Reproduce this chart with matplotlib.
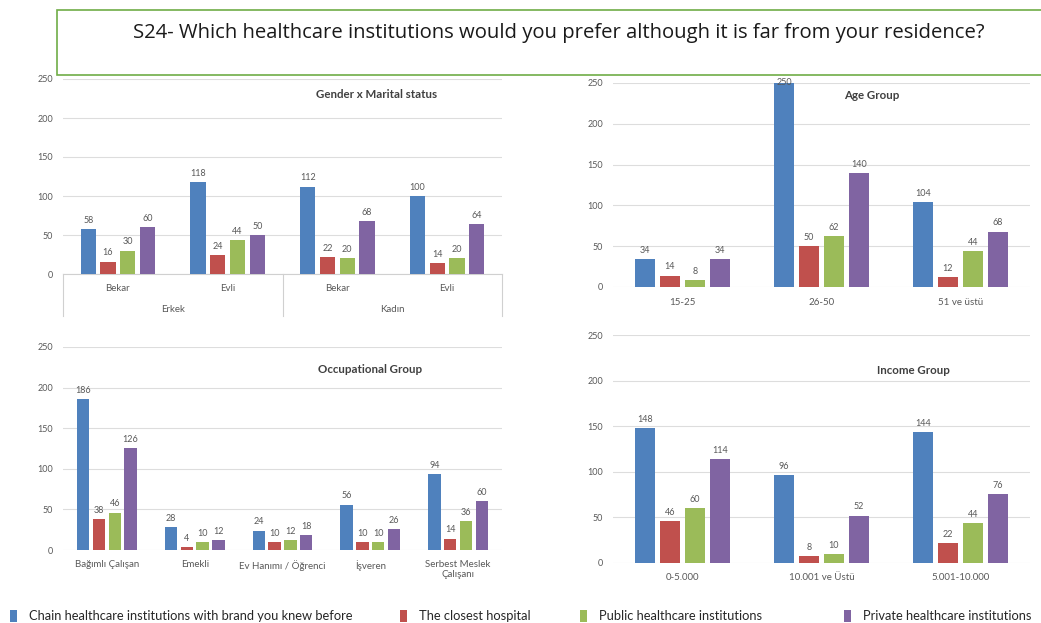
import numpy as np
import matplotlib.pyplot as plt
from matplotlib.patches import Rectangle
import matplotlib.transforms as mtransforms

plt.rcParams['font.family'] = ['Lato', 'DejaVu Sans']

W, H = 1041, 623

series_names = ["Chain healthcare institutions with brand you knew before",
                "The closest hospital",
                "Public healthcare institutions",
                "Private healthcare institutions"]
colors = ["#4F81BD", "#C0504D", "#9BBB59", "#8064A2"]

# Gender x Marital status
gm_cats = ["Bekar", "Evli", "Bekar", "Evli"]
gm_groups = ["Erkek", "Kadın"]
gm_chain = [58, 118, 112, 100]
gm_closest = [16, 24, 22, 14]
gm_public = [30, 44, 20, 20]
gm_private = [60, 50, 68, 64]

# Age group
age_cats = ["15-25", "26-50", "51 ve üstü"]
age_chain = [34, 250, 104]
age_closest = [14, 50, 12]
age_public = [8, 62, 44]
age_private = [34, 140, 68]

# Occupational group
occ_cats = ["Bağımlı Çalışan", "Emekli", "Ev Hanımı / Öğrenci", "İşveren",
            "Serbest Meslek\nÇalışanı"]
occ_chain = [186, 28, 24, 56, 94]
occ_closest = [38, 4, 10, 10, 14]
occ_public = [46, 10, 12, 10, 36]
occ_private = [126, 12, 18, 26, 60]

# Income group
inc_cats = ["0-5.000", "10.001 ve Üstü", "5.001-10.000"]
inc_chain = [148, 96, 144]
inc_closest = [46, 8, 22]
inc_public = [60, 10, 44]
inc_private = [114, 52, 76]

TXT = "#595959"
GRID = "#DDDDDD"
YMAX = 250


def px_axes(fig, x0, y_top, x1, y_bot):
    return fig.add_axes([x0 / W, 1 - y_bot / H, (x1 - x0) / W, (y_bot - y_top) / H])


def panel(ax, cats, values, title, title_xy, xpad=7):
    x = np.arange(len(cats))
    step, width = 0.18, 0.14
    for i, (vals, col) in enumerate(zip(values, colors)):
        bars = ax.bar(x + (i - 1.5) * step, vals, width, color=col, zorder=3)
        labels = ax.bar_label(bars, padding=3, fontsize=6.5, color=TXT)
        # a bar reaching the top of the scale gets its label pulled down onto it
        for t, v in zip(labels, vals):
            if v >= YMAX:
                t.xyann = (0, -3)
    ax.set_xlim(-0.5, len(cats) - 0.5)
    ax.set_ylim(0, YMAX)
    ax.set_yticks(range(0, YMAX + 1, 50))
    ax.grid(axis='y', color=GRID, linewidth=0.8, zorder=0)
    for s in ax.spines.values():
        s.set_visible(False)
    ax.set_xticks(x, cats)
    ax.tick_params(axis='both', length=0, labelcolor=TXT)
    ax.tick_params(axis='y', pad=7, labelsize=6.5)
    ax.tick_params(axis='x', pad=xpad, labelsize=7)
    ax.text(title_xy[0], title_xy[1], title, transform=ax.transAxes,
            ha='center', va='center', fontsize=8.3, fontweight='bold', color="#404040")
    ax.set_facecolor('none')


fig = plt.figure(figsize=(W / 100, H / 100), dpi=100)

ax1 = px_axes(fig, 63, 79, 502, 274)
panel(ax1, gm_cats, [gm_chain, gm_closest, gm_public, gm_private],
      "Gender x Marital status", (0.715, 0.92), xpad=7)
# second level of the category axis
blend = mtransforms.blended_transform_factory(ax1.transData, ax1.transAxes)
ax1.plot([-0.5, 3.5], [0, 0], color="#D0D0D0", lw=0.8, transform=blend, clip_on=False)
for xv in (-0.5, 1.5, 3.5):
    ax1.plot([xv, xv], [0, -0.215], color="#D0D0D0", lw=0.8, transform=blend, clip_on=False)
for xc, g in zip((0.5, 2.5), gm_groups):
    ax1.text(xc, -0.18, g, transform=blend, ha='center', va='center', fontsize=7, color=TXT)

ax2 = px_axes(fig, 613, 83, 1030, 287)
panel(ax2, age_cats, [age_chain, age_closest, age_public, age_private],
      "Age Group", (0.62, 0.94), xpad=8)

ax3 = px_axes(fig, 63, 347, 502, 550)
panel(ax3, occ_cats, [occ_chain, occ_closest, occ_public, occ_private],
      "Occupational Group", (0.70, 0.887), xpad=7)

ax4 = px_axes(fig, 613, 335, 1030, 563)
panel(ax4, inc_cats, [inc_chain, inc_closest, inc_public, inc_private],
      "Income Group", (0.72, 0.846), xpad=7)

# question box on top
fig.patches.append(Rectangle((57 / W, 1 - 75 / H), (1060 - 57) / W, 65 / H,
                             transform=fig.transFigure, facecolor='white',
                             edgecolor='#70AD47', linewidth=1.2, zorder=10))
fig.text(559 / W, 1 - 33 / H,
         "S24- Which healthcare institutions would you prefer although it is far from your residence?",
         ha='center', va='center', fontsize=14.6, color='#1a1a1a', zorder=11,
         family=['Open Sans', 'DejaVu Sans'])

# shared legend along the bottom, each entry at its own slot
legend_x = [10, 400, 580, 844]
for lx, name, col in zip(legend_x, series_names, colors):
    fig.patches.append(Rectangle((lx / W, 1 - 622 / H), 7 / W, 12 / H,
                                 transform=fig.transFigure, facecolor=col, edgecolor='none'))
    fig.text((lx + 19) / W, 1 - 616 / H, name, ha='left', va='center',
             fontsize=9.3, color='#262626')

fig.savefig("out.png", dpi=100)
